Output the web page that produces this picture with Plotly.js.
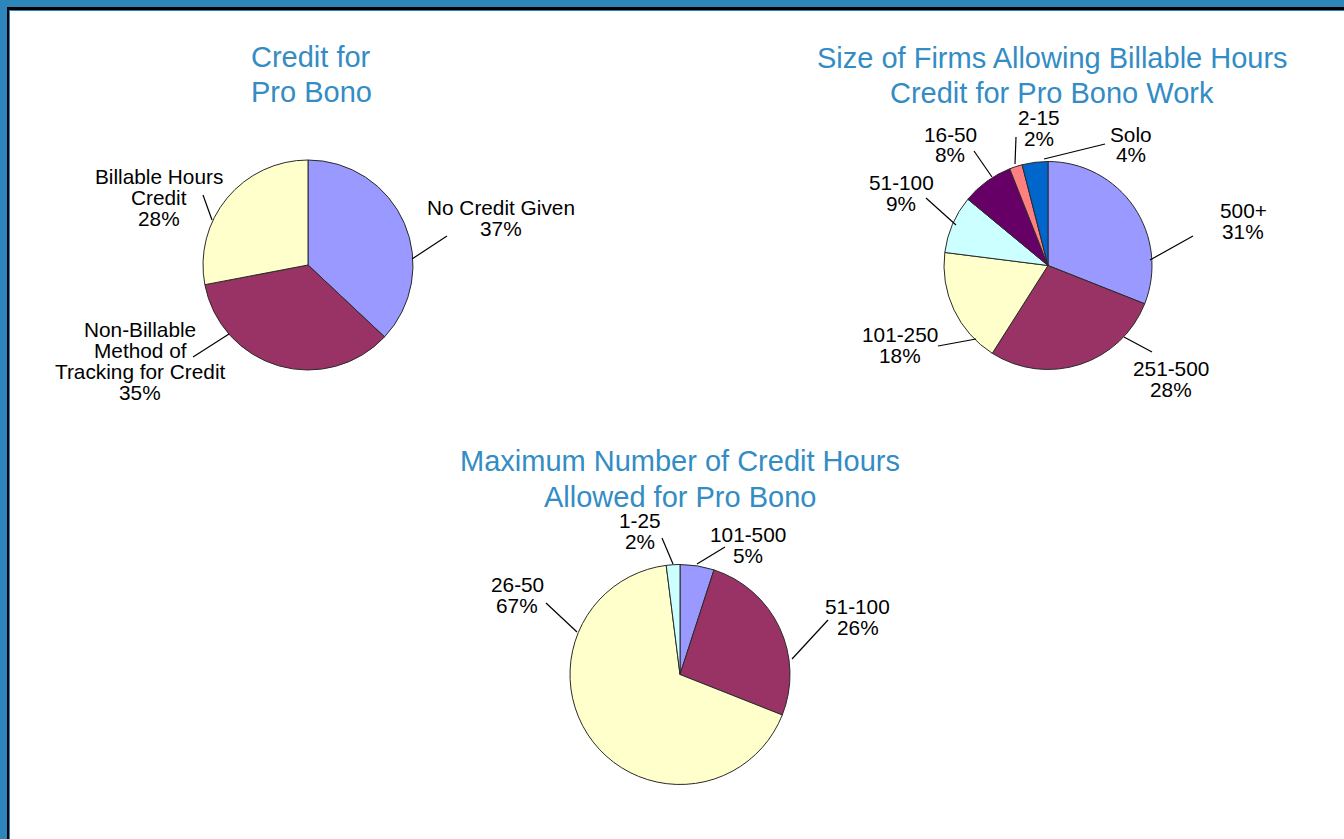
<!DOCTYPE html>
<html>
<head>
<meta charset="utf-8">
<script src="https://cdn.plot.ly/plotly-3.0.1.min.js"></script>
<style>
  html, body { margin: 0; padding: 0; background: #ffffff; overflow: hidden; }
  #chart { width: 1344px; height: 839px; }
</style>
</head>
<body>
<div id="chart"></div>
<script>
// ---------------- DATA ----------------
const pie1Title = ['Credit for', 'Pro Bono'];
const pie1Labels = ['No Credit Given', 'Non-Billable<br>Method of<br>Tracking for Credit', 'Billable Hours<br>Credit'];
const pie1Values = [37, 35, 28];

const pie2Title = ['Size of Firms Allowing Billable Hours', 'Credit for Pro Bono Work'];
const pie2Labels = ['500+', '251-500', '101-250', '51-100', '16-50', '2-15', 'Solo'];
const pie2Values = [31, 28, 18, 9, 8, 2, 4];

const pie3Title = ['Maximum Number of Credit Hours', 'Allowed for Pro Bono'];
const pie3Labels = ['101-500', '51-100', '26-50', '1-25'];
const pie3Values = [5, 26, 67, 2];

// ---------------- STYLE / LAYOUT ----------------
const W = 1344, H = 839;
const px = v => v / W;
const py = v => 1 - v / H;

const C = {
  peri: '#9999FF', maroon: '#993366', yellow: '#FFFFCC', cyan: '#CCFFFF',
  purple: '#660066', salmon: '#FF8080', blue: '#0066CC'
};
const pie1Colors = [C.peri, C.maroon, C.yellow];
const pie2Colors = [C.peri, C.maroon, C.yellow, C.cyan, C.purple, C.salmon, C.blue];
const pie3Colors = [C.peri, C.maroon, C.yellow, C.cyan];

const titleColor = '#338CC4';
const frameBlue = '#2D86BB';
const FONT = 'Liberation Sans, Arial, sans-serif';
const labelSize = 20.8, lineGap = 21, titleSize = 29, titleGap = 35.5;

// pie geometry in pixels: center and radius
const geo = [
  {cx: 308, cy: 265, r: 105},
  {cx: 1048, cy: 265.5, r: 104},
  {cx: 680, cy: 674.5, r: 110}
];

function domainOf(g) {
  return {x: [px(g.cx - g.r), px(g.cx + g.r)], y: [py(g.cy + g.r), py(g.cy - g.r)]};
}

function pieTrace(labels, values, colors, g) {
  return {
    type: 'pie', labels: labels, values: values, sort: false,
    direction: 'clockwise', rotation: 0, textinfo: 'none', hoverinfo: 'none',
    marker: {colors: colors, line: {color: '#2a2a2a', width: 1}},
    domain: domainOf(g), showlegend: false
  };
}

// label placement (pixels): [center x, first-line center y], leader [x0,y0,x1,y1]
const place1 = [
  {x: 501, y: 207, lead: [447, 236, 412, 259]},
  {x: 140, y: 329, lead: [193, 357, 229, 334]},
  {x: 159, y: 176, lead: [203, 195, 212, 220]}
];
const place2 = [
  {x: 1243, y: 210, lead: [1193, 236, 1150, 260]},
  {x: 1171, y: 368, lead: [1152, 352, 1124, 337]},
  {x: 900, y: 334, lead: [938, 346, 976, 339]},
  {x: 901, y: 182, lead: [926, 198, 956, 225]},
  {x: 950, y: 134, lead: [974, 151, 992, 177]},
  {x: 1039, y: 117, lead: [1016, 137, 1015, 164]},
  {x: 1131, y: 134, lead: [1105, 144, 1044, 159]}
];
const place3 = [
  {x: 748, y: 534, lead: [725, 547, 697, 564]},
  {x: 858, y: 606, lead: [828, 620, 792, 659]},
  {x: 517, y: 584, lead: [546, 603, 577, 632]},
  {x: 640, y: 520, lead: [662, 538, 673, 564]}
];
const titlePos = [
  {x: 311, y: 57},
  {x: 1052, y: 58},
  {x: 680, y: 461}
];

const annotations = [];
const shapes = [];

function addText(text, x, y, size, color) {
  annotations.push({
    x: px(x), y: py(y), xref: 'paper', yref: 'paper', text: text,
    showarrow: false, xanchor: 'center', yanchor: 'middle',
    font: {family: FONT, size: size, color: color}
  });
}

function addLabels(labels, values, places) {
  labels.forEach((lab, i) => {
    const lines = lab.split('<br>').concat([values[i] + '%']);
    const p = places[i];
    lines.forEach((ln, k) => addText(ln, p.x, p.y + k * lineGap, labelSize, '#000000'));
    const L = p.lead;
    shapes.push({type: 'line', xref: 'paper', yref: 'paper',
      x0: px(L[0]), y0: py(L[1]), x1: px(L[2]), y1: py(L[3]),
      line: {color: '#000000', width: 1.2}});
  });
}

function addTitle(lines, pos) {
  lines.forEach((ln, k) => addText(ln, pos.x, pos.y + k * titleGap, titleSize, titleColor));
}

addTitle(pie1Title, titlePos[0]);
addTitle(pie2Title, titlePos[1]);
addTitle(pie3Title, titlePos[2]);
addLabels(pie1Labels, pie1Values, place1);
addLabels(pie2Labels, pie2Values, place2);
addLabels(pie3Labels, pie3Values, place3);

// frame (blue band with black rule) on top and left edges
function rect(x0, y0, x1, y1, color) {
  shapes.push({type: 'rect', xref: 'paper', yref: 'paper', layer: 'above',
    x0: px(x0), x1: px(x1), y0: py(y1), y1: py(y0),
    fillcolor: color, line: {width: 0}});
}
rect(0, 0, W, 7, frameBlue);
rect(0, 0, 7, H, frameBlue);
rect(7, 7, W, 10, '#000000');
rect(7, 7, 9, H, '#000000');
rect(9, 10, W, 11, frameBlue);
rect(9, 10, 10, H, frameBlue);

const data = [
  pieTrace(pie1Labels, pie1Values, pie1Colors, geo[0]),
  pieTrace(pie2Labels, pie2Values, pie2Colors, geo[1]),
  pieTrace(pie3Labels, pie3Values, pie3Colors, geo[2])
];

const layout = {
  width: W, height: H,
  margin: {l: 0, r: 0, t: 0, b: 0},
  paper_bgcolor: '#ffffff', plot_bgcolor: '#ffffff',
  font: {family: FONT},
  showlegend: false, hovermode: false,
  annotations: annotations, shapes: shapes
};

Plotly.newPlot('chart', data, layout, {displayModeBar: false, staticPlot: true});
</script>
</body>
</html>
